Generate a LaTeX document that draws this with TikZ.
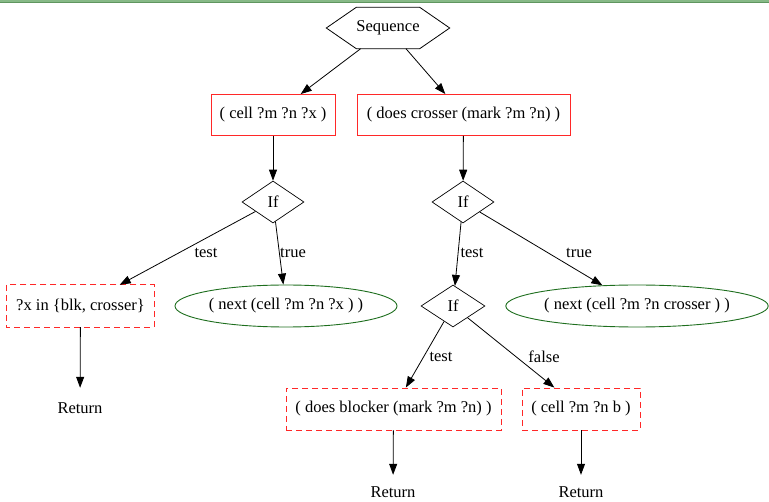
\documentclass[tikz,border=0pt]{standalone}
\usepackage{fontspec}
\setmainfont{Liberation Serif}
\newfontfamily\gvfont{Liberation Serif}
\usetikzlibrary{shapes.geometric,arrows.meta}
\definecolor{gvred}{RGB}{255,40,40}
\definecolor{gvgreen}{RGB}{30,110,30}
\definecolor{bandgreen}{RGB}{135,185,135}
\definecolor{banddark}{RGB}{95,150,95}
\begin{document}
\begin{tikzpicture}[x=1pt,y=-1pt,
  every node/.style={font=\gvfont\fontsize{16.5}{18}\selectfont, inner sep=0pt},
  solidbox/.style={draw=gvred, line width=0.9pt, minimum height=41},
  dashbox/.style={draw=gvred, line width=0.9pt, dash pattern=on 6pt off 4pt, minimum height=42},
  dashline/.style={draw=gvred, line width=0.9pt, dash pattern=on 6pt off 4pt},
  ifnode/.style={draw, diamond, line width=0.7pt, minimum width=62, minimum height=42},
  nextnode/.style={draw=gvgreen, ellipse, line width=0.9pt, minimum height=42},
  retnode/.style={minimum height=34, minimum width=50},
  conn/.style={line width=0.8pt, -{Triangle[length=11pt,width=8pt]}}
]
\useasboundingbox (0,0) rectangle (769,502);
\fill[bandgreen] (0,0) rectangle (769,2.5);
\draw[banddark, line width=0.8pt] (0,2.6) -- (769,2.6);

% Sequence hexagon
\node[minimum width=123, minimum height=41] (seq) at (388,28) {Sequence};
\draw[line width=0.8pt] (seq.west) -- ([xshift=30]seq.north west) -- ([xshift=-30]seq.north east)
  -- (seq.east) -- ([xshift=-30]seq.south east) -- ([xshift=30]seq.south west) -- cycle;

\node[solidbox, minimum width=124] (cell) at (273,115) {( cell ?m ?n ?x )};
\node[solidbox, minimum width=213] (does) at (463.5,115) {( does crosser (mark ?m ?n) )};

\node[ifnode] (if1) at (273,202) {If};
\node[ifnode] (if2) at (463,202) {If};

\node[minimum width=147, minimum height=42] (xin) at (80.5,306) {?x in \textbraceleft blk, crosser\textbraceright};
\draw[dashline] (xin.north west) rectangle (xin.south east);
\node[nextnode, minimum width=222] (next1) at (286,306) {( next (cell ?m ?n ?x ) )};
\node[ifnode, minimum width=64] (if3) at (453,306) {If};
\node[nextnode, minimum width=262] (next2) at (637,306) {( next (cell ?m ?n crosser ) )};

\node[retnode, minimum height=40] (ret1) at (80,408) {Return};
\node[dashbox, minimum width=215] (block) at (393.5,409) {( does blocker (mark ?m ?n) )};
\node[dashbox, minimum width=118] (cellb) at (581,409) {( cell ?m ?n b )};

\node[retnode] (ret2) at (393,492) {Return};
\node[retnode] (ret3) at (581,492) {Return};

\draw[conn] (seq) -- (cell);
\draw[conn] (seq) -- (does);
\draw[conn] (cell) -- (if1);
\draw[conn] (does) -- (if2);
\draw[conn] (if1) -- (xin);
\draw[conn] (if1) -- (next1);
\draw[conn] (if2) -- (if3);
\draw[conn] (if2) -- (next2);
\draw[conn] (if3) -- (block);
\draw[conn] (if3) -- (cellb);
\draw[conn] (xin) -- (ret1);
\draw[conn] (block) -- (ret2);
\draw[conn] (cellb) -- (ret3);

\node (l1) at (206,253) {test};
\node (l2) at (293,253) {true};
\node (l3) at (472,253) {test};
\node (l4) at (579,253) {true};
\node (l5) at (441,357) {test};
\node (l6) at (544,357) {false};
\end{tikzpicture}
\end{document}
